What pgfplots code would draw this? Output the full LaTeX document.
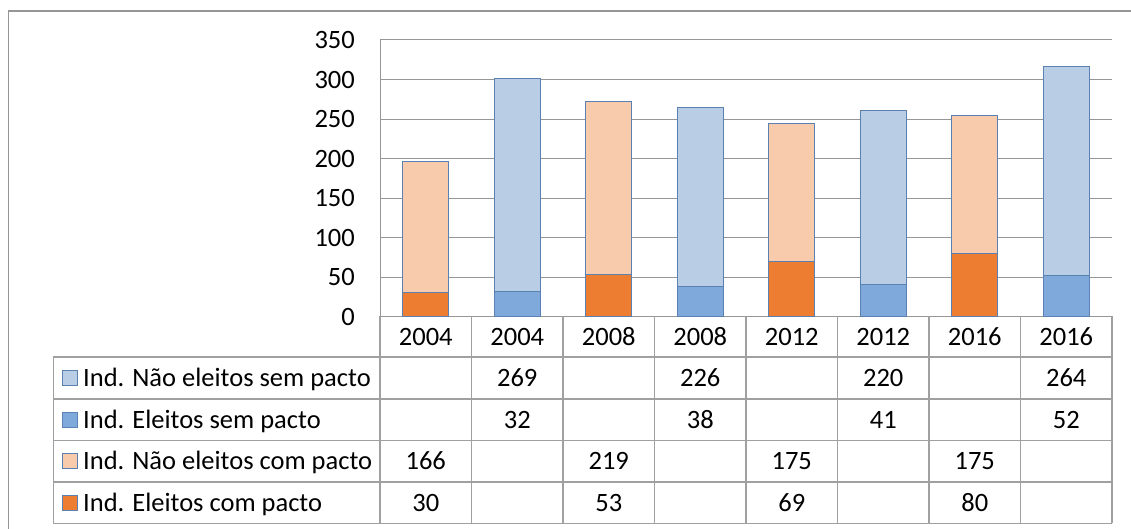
\documentclass[border=0pt]{standalone}
\usepackage{fontspec}
\setmainfont{Carlito}
\usepackage{pgfplots}
\pgfplotsset{compat=1.18}
\definecolor{lblue}{HTML}{B9CDE5}
\definecolor{mblue}{HTML}{7FA8DB}
\definecolor{peach}{HTML}{F8CBAD}
\definecolor{orng}{HTML}{ED7D31}
\definecolor{edge}{HTML}{5B80B2}
\definecolor{gridc}{HTML}{969696}
\definecolor{tabc}{HTML}{A0A0A0}
\newcommand{\cf}{\fontsize{26.5bp}{30bp}\selectfont}
\begin{document}
\begin{tikzpicture}[x=1bp,y=1bp,font=\cf]
\useasboundingbox (0,0) rectangle (1131,-529);
\begin{axis}[
  at={(380bp,-316.5bp)}, anchor=south west,
  scale only axis, width=732bp, height=276.5bp,
  ybar stacked, bar width=0.5,
  xmin=-0.5, xmax=7.5, ymin=0, ymax=350,
  ytick={0,50,...,350},
  xtick={0,...,7},
  xticklabels={2004,2004,2008,2008,2012,2012,2016,2016},
  xticklabel style={anchor=base, inner sep=0pt, yshift=-28.8bp},
  yticklabel style={inner sep=0pt, xshift=-25bp, anchor=east},
  major tick length=0pt,
  axis lines*=left,
  axis line style={draw=gridc, line width=1bp, -},
  ymajorgrids,
  grid style={draw=gridc, line width=1bp},
  tick label style={font=\cf},
  /pgf/number format/assume math mode=true,
  every axis plot/.append style={draw=edge, line width=1bp},
  clip=false,
]
\addplot[fill=orng] coordinates {(0,30) (1,0) (2,53) (3,0) (4,69) (5,0) (6,80) (7,0)};
\addplot[fill=peach] coordinates {(0,166) (1,0) (2,219) (3,0) (4,175) (5,0) (6,175) (7,0)};
\addplot[fill=mblue] coordinates {(0,0) (1,32) (2,0) (3,38) (4,0) (5,41) (6,0) (7,52)};
\addplot[fill=lblue] coordinates {(0,0) (1,269) (2,0) (3,226) (4,0) (5,220) (6,0) (7,264)};
\end{axis}
% outer chart border
\draw[gridc, line width=1.3bp] (8.5,-540) -- (8.5,-11) -- (1140,-11);
% data table grid
\foreach \yy in {357,399,440.5,482,523.3}
  \draw[tabc, line width=1.2bp] (53.3,-\yy) -- (1112,-\yy);
\draw[tabc, line width=1.2bp] (1112,-316.5) -- (1112,-523.3);
\draw[tabc, line width=1.2bp] (53.3,-357) -- (53.3,-523.3);
\foreach \k in {1,...,7}
  \draw[tabc, line width=1.2bp] ({380+91.5*\k},-316.5) -- ({380+91.5*\k},-523.3);
\draw[tabc, line width=1.2bp] (380,-316.5) -- (380,-523.3);
% row labels with keys
\foreach \yc/\col/\txt in {378/lblue/{Ind. Não eleitos sem pacto},419.75/mblue/{Ind. Eleitos sem pacto},461.25/peach/{Ind. Não eleitos com pacto},502.6/orng/{Ind. Eleitos com pacto}}{
  \draw[fill=\col, draw=edge, line width=1bp] (62,-\yc-7.5) rectangle (77,-\yc+7.5);
  \node[anchor=base west, inner sep=0pt] at (83,-\yc-8.4) {\txt};
}
% table values
\foreach \k/\v in {1/269,3/226,5/220,7/264}
  \node[anchor=base, inner sep=0pt] at ({380+91.5*(\k+0.5)},-378-8.4) {\v};
\foreach \k/\v in {1/32,3/38,5/41,7/52}
  \node[anchor=base, inner sep=0pt] at ({380+91.5*(\k+0.5)},-419.75-8.4) {\v};
\foreach \k/\v in {0/166,2/219,4/175,6/175}
  \node[anchor=base, inner sep=0pt] at ({380+91.5*(\k+0.5)},-461.25-8.4) {\v};
\foreach \k/\v in {0/30,2/53,4/69,6/80}
  \node[anchor=base, inner sep=0pt] at ({380+91.5*(\k+0.5)},-502.6-8.4) {\v};
\end{tikzpicture}
\end{document}
